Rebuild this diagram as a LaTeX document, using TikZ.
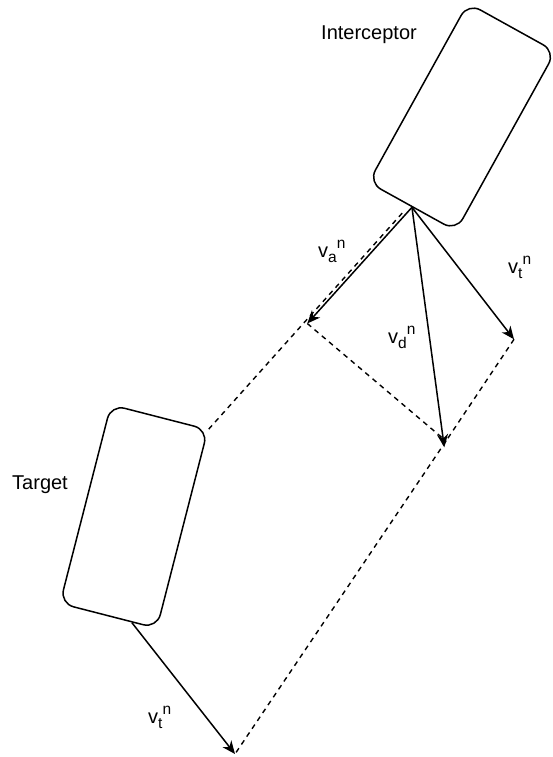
\documentclass[tikz,border=0pt]{standalone}
\usepackage{fontspec}
\setmainfont{Liberation Sans}
\usetikzlibrary{arrows.meta,calc}

% velocity label: v with a subscript and a trailing superscript n
\newcommand{\smallsz}{\fontsize{15.5}{15.5}\selectfont}
\newcommand{\vel}[1]{v\raisebox{-5pt}{\smallsz #1}\raisebox{8.5pt}{\smallsz n}}

\begin{document}
\begin{tikzpicture}[x=1pt,y=-1pt,
  vehicle/.style={draw, line width=1.5pt, rounded corners=14pt,
    minimum width=100pt, minimum height=205pt, inner sep=0pt},
  vec/.style={line width=1.5pt, -{Stealth[length=13pt,width=11pt,inset=4pt]}},
  aux/.style={line width=1.4pt, dash pattern=on 5pt off 4.5pt},
  caption/.style={inner sep=0pt, anchor=base, font=\fontsize{20}{24}\selectfont},
  vlabel/.style={inner sep=0pt, anchor=base west, font=\fontsize{20}{24}\selectfont},
]
\useasboundingbox (0,0) rectangle (552,757);

% the two vehicles
\node[vehicle, rotate=-29]   (icpt) at (462,117) {};
\node[vehicle, rotate=-14.4] (tgt)  at (133.9,516.5) {};

\node[caption] (icptname) at (369,39.3) {Interceptor};
\node[caption] (tgtname)  at (40,489.3) {Target};

% vector origins and end points
\coordinate (o)   at (icpt.south);
\coordinate (ot)  at ($(tgt.south west)!0.74!(tgt.south east)$);
\coordinate (va)  at (307.3,323.5);
\coordinate (vt)  at (514,339.3);
\coordinate (vd)  at (444.3,447.3);
\coordinate (tvt) at (235,754);
\coordinate (pd)  at (446,441);
\coordinate (los) at (405,210);

% construction lines
\draw[aux] (tgt.north east) -- (los);
\draw[aux] (va) -- (pd);
\draw[aux] (vt) -- (pd);
\draw[aux] (pd) -- (tvt);

% velocity vectors
\draw[vec] (o) -- (va);
\draw[vec] (o) -- (vd);
\draw[vec] (o) -- (vt);
\draw[vec] (ot) -- (tvt);

% vector labels
\node[vlabel] (lva)  at (318,257)   {\vel{a}};
\node[vlabel] (lvt)  at (508,273)   {\vel{t}};
\node[vlabel] (lvd)  at (388,343)   {\vel{d}};
\node[vlabel] (lvt2) at (148,723)   {\vel{t}};
\end{tikzpicture}
\end{document}
